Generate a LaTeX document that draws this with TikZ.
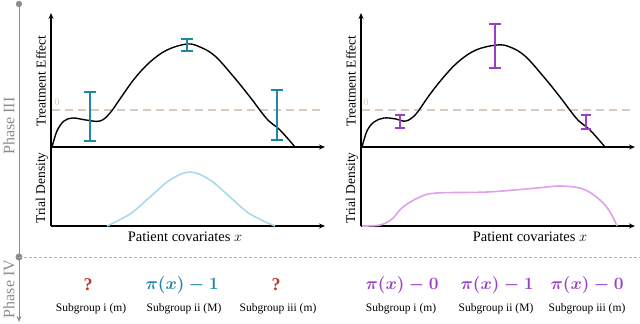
\documentclass[tikz,border=0pt]{standalone}
\usepackage{amsmath}
\usepackage{fontspec}
\setmainfont{Liberation Serif}
\usepackage{xcolor}
\usetikzlibrary{arrows.meta}

\definecolor{effteal}{HTML}{1F86A7}
\definecolor{effpurple}{HTML}{9B3FC9}
\definecolor{denblue}{HTML}{A9D9EE}
\definecolor{denpurple}{HTML}{DDA2EA}
\definecolor{zerotan}{HTML}{D6CBBE}
\definecolor{phasegray}{HTML}{8C8C8C}
\definecolor{qred}{HTML}{C0392B}

\tikzset{
  axis/.style={line width=1.1pt,-{Stealth[length=6pt,width=5pt]}},
  zeroline/.style={zerotan,line width=2pt,dash pattern=on 8pt off 5pt},
  ebar/.style={line width=1.8pt,{Bar[width=12pt]}-{Bar[width=12pt]}},
  ylab/.style={rotate=90,font=\fontsize{13.5}{15}\selectfont},
  xlab/.style={font=\fontsize{14.5}{16}\selectfont},
  sublab/.style={font=\fontsize{11.5}{13}\selectfont},
  pilab/.style={font=\fontsize{16}{18}\selectfont\boldmath},
  qlab/.style={qred,font=\fontsize{18}{20}\selectfont\bfseries},
  phaselab/.style={rotate=90,phasegray,font=\fontsize{16}{18}\selectfont}
}

\begin{document}
\begin{tikzpicture}[x=1pt,y=-1pt]
  \useasboundingbox (0,0) rectangle (640,324);

  \draw[phasegray,line width=1pt,-{Stealth[length=6pt,width=5pt]}] (19,4) -- (19,322);
  \fill[phasegray] (19,4) circle (3.2) (19,257) circle (3.5);
  \draw[phasegray!70,line width=1pt,dash pattern=on 3pt off 2pt] (19,257) -- (640,257);
  \node[phaselab] (ph3) at (9,126) {Phase III};
  \node[phaselab] (ph4) at (9,289) {Phase IV};

  \draw[zeroline] (52,110) -- (320,110);
  \node[zerotan,font=\fontsize{10}{12}\selectfont] (z1) at (57,102) {0};
  \draw[axis] (51,226) -- (51,13);
  \draw[axis] (51,147) -- (325,147);
  \draw[axis] (51,226) -- (325,226);
  \draw[line width=1.4pt] plot[smooth,tension=0.6] coordinates {
    (52,147) (57,131) (64,121) (73,118) (86,120) (100,121) (110,113)
    (122,96) (135,78) (150,62) (167,50) (187,44) (200,47) (215,56)
    (233,76) (250,97) (267,119) (280,130) (295,147)};
  \draw[effteal,ebar] (90,91) -- (90,142);
  \draw[effteal,ebar] (187,38) -- (187,52);
  \draw[effteal,ebar] (277,89) -- (277,141);
  \draw[denblue,line width=1.6pt] plot[smooth,tension=0.6] coordinates {
    (107,226) (130,214) (150,197) (170,180) (190,172) (210,180)
    (230,197) (250,214) (275,226)};
  \node[ylab] (te1) at (41,81) {Treatment Effect};
  \node[ylab] (td1) at (42,188) {Trial Density};
  \node[xlab] (px1) at (185,237) {Patient covariates $x$};

  \draw[zeroline] (362,110) -- (632,110);
  \node[zerotan,font=\fontsize{10}{12}\selectfont] (z2) at (366,102) {0};
  \draw[axis] (361,226) -- (361,13);
  \draw[axis] (361,147) -- (635,147);
  \draw[axis] (361,226) -- (635,226);
  \draw[line width=1.4pt] plot[smooth,tension=0.6] coordinates {
    (362,147) (367,131) (374,122) (384,118) (396,119) (406,121) (416,114)
    (428,97) (442,79) (458,62) (476,50) (497,45) (510,47) (525,56)
    (543,76) (560,97) (577,119) (590,130) (605,147)};
  \draw[effpurple,ebar,{Bar[width=10pt]}-{Bar[width=10pt]}] (400,114) -- (400,129);
  \draw[effpurple,ebar] (495,23) -- (495,69);
  \draw[effpurple,ebar,{Bar[width=10pt]}-{Bar[width=10pt]}] (586,114) -- (586,130);
  \draw[denpurple,line width=1.6pt] plot[smooth,tension=0.6] coordinates {
    (362,226) (380,225) (392,219) (403,207) (420,197) (437,193) (487,192)
    (537,188) (560,186) (583,189) (600,200) (610,212) (617,226)};
  \node[ylab] (te2) at (351,81) {Treatment Effect};
  \node[ylab] (td2) at (352,188) {Trial Density};
  \node[xlab] (px2) at (530,237) {Patient covariates $x$};

  \node[qlab] (q1) at (88,285) {?};
  \node[pilab,effteal] (p1) at (182,285) {$\pi(x)-1$};
  \node[qlab] (q3) at (276,285) {?};
  \node[sublab] (s1) at (91,309) {Subgroup i (m)};
  \node[sublab] (s2) at (184,309) {Subgroup ii (M)};
  \node[sublab] (s3) at (278,309) {Subgroup iii (m)};

  \node[pilab,effpurple] (p4) at (402,285) {$\pi(x)-0$};
  \node[pilab,effpurple] (p5) at (497,285) {$\pi(x)-1$};
  \node[pilab,effpurple] (p6) at (587,285) {$\pi(x)-0$};
  \node[sublab] (s4) at (401,309) {Subgroup i (m)};
  \node[sublab] (s5) at (496,309) {Subgroup ii (M)};
  \node[sublab] (s6) at (587,309) {Subgroup iii (m)};
\end{tikzpicture}
\end{document}
